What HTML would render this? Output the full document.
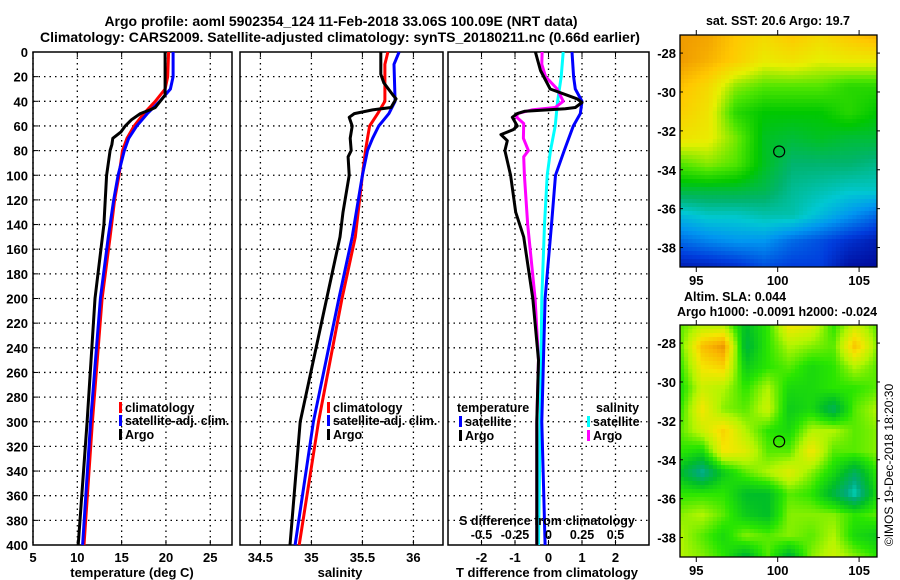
<!DOCTYPE html>
<html><head><meta charset="utf-8"><style>
html,body{margin:0;padding:0;background:#fff;}
svg{display:block;font-family:"Liberation Sans",sans-serif;font-weight:bold;}
</style></head><body>
<svg id="fig" width="900" height="580" viewBox="0 0 900 580" xmlns="http://www.w3.org/2000/svg">
<text x="341" y="26" font-size="14" text-anchor="middle">Argo profile: aoml 5902354_124 11-Feb-2018 33.06S 100.09E (NRT data)</text>
<text x="340" y="42" font-size="14" text-anchor="middle">Climatology: CARS2009. Satellite-adjusted climatology: synTS_20180211.nc (0.66d earlier)</text>
<g id="g"></g>
</svg>
<script>
// ---------- data ----------
const depthTicks=[0,20,40,60,80,100,120,140,160,180,200,220,240,260,280,300,320,340,360,380,400];
const tempTicks=[5,10,15,20,25];
const salTicks=[34.5,35,35.5,36];
const dTTicks=[-2,-1,0,1,2];
const dSTicks=[-0.5,-0.25,0,0.25,0.5];
// temperature panel
const tArgoDepth=[0,35,45,47,50,55,60,65,70,75,80,100,140,200,300,400];
const tArgo=[19.9,19.9,18.8,18.2,17.1,16.1,15.4,14.9,14.0,13.9,13.7,13.3,13.0,12.0,11.1,10.1];
const tClimDepth=[0,20,30,40,50,60,70,80,100,120,150,200,300,400];
const tClim=[20.3,20.2,19.9,18.8,17.5,16.4,15.6,15.1,14.7,14.2,13.7,12.8,11.7,10.75];
const tSat=[20.8,20.8,20.5,19.3,17.9,16.7,15.8,15.3,14.6,14.1,13.5,12.6,11.5,10.6];
// salinity panel
const sArgoDepth=[0,18,25,35,38,45,47,50,53,60,70,80,85,100,130,150,200,300,400];
const sArgo=[35.68,35.68,35.71,35.8,35.83,35.78,35.6,35.42,35.37,35.4,35.38,35.39,35.36,35.37,35.31,35.28,35.15,34.89,34.79];
const sClimDepth=[0,10,40,50,60,70,80,100,150,200,300,400];
const sClim=[35.75,35.72,35.72,35.65,35.57,35.55,35.53,35.5,35.43,35.3,35.07,34.88];
const sSat=[35.86,35.81,35.82,35.76,35.66,35.6,35.55,35.5,35.4,35.27,35.02,34.84];
// difference panel (T in degC, S in psu)
const dTSatDepth=[0,20,30,40,50,60,80,100,140,200,300,400];
const dTSat=[0.7,0.75,0.8,1.0,0.95,0.74,0.47,0.21,0.09,-0.1,-0.2,-0.1];
const dSSatDepth=[0,20,40,60,80,100,140,200,300,400];
const dSSat=[0.11,0.095,0.068,0.05,0.015,-0.01,-0.03,-0.05,-0.062,-0.075];
const dSArgoDepth=[0,10,20,30,40,45,47,50,53,58,70,80,85,100,140,200,250,300,400];
const dSArgo=[-0.048,-0.05,-0.022,0.065,0.11,0.05,-0.125,-0.232,-0.237,-0.185,-0.187,-0.15,-0.185,-0.18,-0.155,-0.1,-0.075,-0.087,-0.087];
const dTArgoDepth=[0,15,30,38,41,45,46,48,50,53,60,63,67,72,80,100,130,150,200,250,300,400];
const dTArgo=[-0.39,-0.24,0.05,0.85,1.0,0.8,0.5,-0.7,-0.93,-1.08,-0.93,-1.05,-1.42,-1.23,-1.3,-1.13,-0.98,-0.74,-0.47,-0.3,-0.35,-0.35];
// SST map grid (normalised 0..1)
const sstGrid=[
[.9,.88,.8,.75,.8,.75,.8,.85],
[.9,.85,.78,.7,.72,.68,.7,.7],
[.82,.75,.6,.55,.55,.55,.5,.5],
[.78,.72,.5,.45,.45,.45,.5,.45],
[.72,.7,.58,.42,.4,.42,.4,.4],
[.55,.6,.55,.42,.35,.35,.35,.33],
[.4,.4,.4,.38,.32,.3,.28,.28],
[.25,.28,.28,.3,.3,.25,.2,.15],
[.15,.18,.2,.2,.15,.12,.08,.05],
[.05,.06,.08,.12,.1,.1,.03,.02]];
const slaGrid=[
[.5,.6,.6,.3,.45,.75,.7,.45,.65,.5],
[.5,.85,.95,.25,.45,.6,.55,.5,.85,.55],
[.45,.75,.8,.35,.45,.5,.4,.45,.6,.5],
[.4,.65,.6,.45,.6,.4,.4,.45,.45,.5],
[.45,.75,.55,.5,.65,.35,.4,.2,.5,.6],
[.5,.65,.8,.6,.45,.4,.6,.6,.5,.55],
[.45,.4,.75,.7,.5,.5,.75,.5,.5,.55],
[.3,.1,.35,.5,.6,.7,.55,.4,.2,.45],
[.45,.45,.45,.3,.3,.5,.45,.25,.05,.4],
[.55,.6,.5,.35,.3,.55,.55,.55,.45,.5],
[.6,.5,.4,.55,.5,.55,.5,.6,.4,.35],
[.6,.55,.45,.25,.5,.25,.55,.65,.55,.45]];
const mapLonTicks=[95,100,105];
const mapLatTicks=[-28,-30,-32,-34,-36,-38];
const argoLon=100.09, argoLat=-33.06;

// ---------- helpers ----------
const NS='http://www.w3.org/2000/svg';
const G=document.getElementById('g');
function mk(tag,attrs,parent){const e=document.createElementNS(NS,tag);for(const k in attrs)e.setAttribute(k,attrs[k]);(parent||G).appendChild(e);return e;}
const Y0=52,Y1=545;
const yD=d=>Y0+(Y1-Y0)*d/400;
const P1={x0:33,x1:232,v0:5,v1:27.45};
const P2={x0:240,x1:443,v0:34.3,v1:36.29};
const P3={x0:448,x1:649,v0:-3,v1:3};
const sx=(p,v)=>p.x0+(p.x1-p.x0)*(v-p.v0)/(p.v1-p.v0);

function panel(p,name,xt,fmt){
  const gp=mk('g',{});
  
  
  depthTicks.forEach(d=>{if(d>0&&d<400)mk('line',{x1:p.x0,x2:p.x1,y1:yD(d),y2:yD(d),stroke:'#000','stroke-width':1.3,'stroke-dasharray':'1.5,4'},gp);});
  xt.forEach(v=>{const x=sx(p,v);mk('line',{x1:x,x2:x,y1:Y0,y2:Y1,stroke:'#000','stroke-width':1.3,'stroke-dasharray':'1.5,4'},gp);
    mk('line',{x1:x,x2:x,y1:Y1,y2:Y1-5,stroke:'#000'},gp);mk('line',{x1:x,x2:x,y1:Y0,y2:Y0+5,stroke:'#000'},gp);
    if(fmt){const t=mk('text',{x:x,y:562,'font-size':13,'text-anchor':'middle'},gp);t.textContent=fmt(v);
      
      }});
  mk('rect',{x:p.x0,y:Y0,width:p.x1-p.x0,height:Y1-Y0,fill:'none',stroke:'#000','stroke-width':1.5},gp);
  return gp;
}
function line(p,depths,vals,color,name,scale){
  const pts=depths.map((d,i)=>sx(p,vals[i]*(scale||1)).toFixed(1)+','+yD(d).toFixed(1)).join(' ');
  const l=mk('polyline',{points:pts,fill:'none',stroke:color,'stroke-width':3,'stroke-linejoin':'round'});
  
  
}
function txt(x,y,s,size,anchor,name){const t=mk('text',{x:x,y:y,'font-size':size,'text-anchor':anchor||'start'});t.textContent=s;
  
  return t;}
function legend(x,y,color,label,name){mk('rect',{x:x,y:y-10,width:3,height:11,fill:color});txt(x+6,y,label,12.5,'start',name);}

// panel 1
panel(P1,'temperature-panel',tempTicks,v=>String(v));
depthTicks.forEach(d=>{mk('line',{x1:P1.x0,x2:P1.x0+5,y1:yD(d),y2:yD(d),stroke:'#000'});txt(28,yD(d)+5,String(d),13,'end','y-tick-label');});
line(P1,tClimDepth,tClim,'#ff0000','temp-climatology-line');
line(P1,tClimDepth,tSat,'#0000ff','temp-satellite-adj-line');
line(P1,tArgoDepth,tArgo,'#000','temp-argo-line');
legend(119,412,'#f00','climatology','legend-climatology');
legend(119,425,'#00f','satellite-adj. clim.','legend-satellite-adj');
legend(119,439,'#000','Argo','legend-argo');
txt(132,577,'temperature (deg C)',13,'middle','x-axis-title-temperature');

// panel 2
panel(P2,'salinity-panel',salTicks,v=>String(v));
line(P2,sClimDepth,sClim,'#ff0000','sal-climatology-line');
line(P2,sClimDepth,sSat,'#0000ff','sal-satellite-adj-line');
line(P2,sArgoDepth,sArgo,'#000','sal-argo-line');
legend(327,412,'#f00','climatology','legend-climatology');
legend(327,425,'#00f','satellite-adj. clim.','legend-satellite-adj');
legend(327,439,'#000','Argo','legend-argo');
txt(340,577,'salinity',13,'middle','x-axis-title-salinity');

// panel 3
panel(P3,'difference-panel',dTTicks,v=>String(v));
line(P3,dSSatDepth,dSSat,'#00ffff','diff-sal-satellite-line',4);
line(P3,dSArgoDepth,dSArgo,'#ff00ff','diff-sal-argo-line',4);
line(P3,dTSatDepth,dTSat,'#0000ff','diff-temp-satellite-line');
line(P3,dTArgoDepth,dTArgo,'#000','diff-temp-argo-line');
txt(457,412,'temperature',12.5,'start','legend-temperature-heading');
legend(459,426,'#00f','satellite','legend-temp-satellite');
legend(459,440,'#000','Argo','legend-temp-argo');
txt(596,412,'salinity',12.5,'start','legend-salinity-heading');
legend(587,426,'#0ff','satellite','legend-sal-satellite');
legend(587,440,'#f0f','Argo','legend-sal-argo');
txt(547,525,'S difference from climatology',12.5,'middle','s-axis-title');
dSTicks.forEach(v=>txt(sx(P3,v*4),539,String(v),12.5,'middle','s-tick-label'));
txt(547,577,'T difference from climatology',13,'middle','x-axis-title-tdiff');

// ---------- maps ----------
const M={x0:680,x1:877,lon0:94.0,lon1:106.1,lat0:-27.07,lat1:-39.0};
const mx=lon=>M.x0+(M.x1-M.x0)*(lon-M.lon0)/(M.lon1-M.lon0);
const my=(lat,oy)=>oy+35+(232)*(lat-M.lat0)/(M.lat1-M.lat0);
function lerpC(stops,v){v=Math.max(0,Math.min(1,v));for(let i=1;i<stops.length;i++){if(v<=stops[i][0]){const a=stops[i-1],b=stops[i],t=(v-a[0])/(b[0]-a[0]);return 'rgb('+[1,2,3].map(k=>Math.round(a[k]+(b[k]-a[k])*t)).join(',')+')';}}const s=stops[stops.length-1];return 'rgb('+s[1]+','+s[2]+','+s[3]+')';}
const sstStops=[[0,0,0,140],[0.1,0,60,220],[0.2,0,150,240],[0.27,0,200,210],[0.35,0,180,110],[0.45,0,200,0],[0.55,80,230,0],[0.68,230,240,0],[0.8,255,200,0],[1,225,110,0]];
const slaStops=[[0,0,230,220],[0.15,0,170,120],[0.3,0,190,40],[0.45,40,230,0],[0.6,180,245,0],[0.75,245,230,0],[0.88,250,180,0],[1,225,130,0]];
function sample(grid,fx,fy){const R=grid.length,C=grid[0].length;let gx=fx*(C-1),gy=fy*(R-1);const i=Math.min(R-2,Math.floor(gy)),j=Math.min(C-2,Math.floor(gx));const ty=gy-i,tx=gx-j;
  return grid[i][j]*(1-tx)*(1-ty)+grid[i][j+1]*tx*(1-ty)+grid[i+1][j]*(1-tx)*ty+grid[i+1][j+1]*tx*ty;}
function map(grid,stops,oy,name){
  const gm=mk('g',{});
  
  
  const NX=48,NY=58,w=(M.x1-M.x0)/NX,h=232/NY;
  for(let r=0;r<NY;r++)for(let c=0;c<NX;c++){
    const v=sample(grid,(c+0.5)/NX,(r+0.5)/NY);
    mk('rect',{x:(M.x0+c*w).toFixed(2),y:(oy+35+r*h).toFixed(2),width:(w+0.4).toFixed(2),height:(h+0.4).toFixed(2),fill:lerpC(stops,v)},gm);}
  mk('rect',{x:M.x0,y:oy+35,width:M.x1-M.x0,height:232,fill:'none',stroke:'#000','stroke-width':1.3},gm);
  mapLonTicks.forEach(l=>{const x=mx(l);mk('line',{x1:x,x2:x,y1:oy+35,y2:oy+30,stroke:'#000'},gm);mk('line',{x1:x,x2:x,y1:oy+267,y2:oy+272,stroke:'#000'},gm);
    txt(x,oy+285,String(l),13,'middle','map-lon-label');});
  mapLatTicks.forEach(l=>{const y=my(l,oy);mk('line',{x1:M.x0,x2:M.x0+3,y1:y,y2:y,stroke:'#000'},gm);mk('line',{x1:M.x1,x2:M.x1+3,y1:y,y2:y,stroke:'#000'},gm);
    txt(676,y+5,String(l),13,'end','map-lat-label');});
  const c=mk('circle',{cx:mx(argoLon),cy:my(argoLat,oy),r:5.5,fill:'none',stroke:'#000','stroke-width':1.2},gm);
  
  
}
map(sstGrid,sstStops,0,'sst-map');
txt(778,25,'sat. SST: 20.6 Argo: 19.7',12.5,'middle','sst-map-title');
map(slaGrid,slaStops,290,'sla-map');
txt(735,301,'Altim. SLA: 0.044',12.5,'middle','sla-map-title');
txt(777,316,'Argo h1000: -0.0091 h2000: -0.024',12.5,'middle','sla-map-subtitle');
const cr=txt(0,0,'©IMOS 19-Dec-2018 18:20:30',12,'middle','imos-timestamp');
cr.setAttribute('font-weight','normal');
cr.setAttribute('transform','translate(893,465) rotate(-90)');
</script>
</body></html>
